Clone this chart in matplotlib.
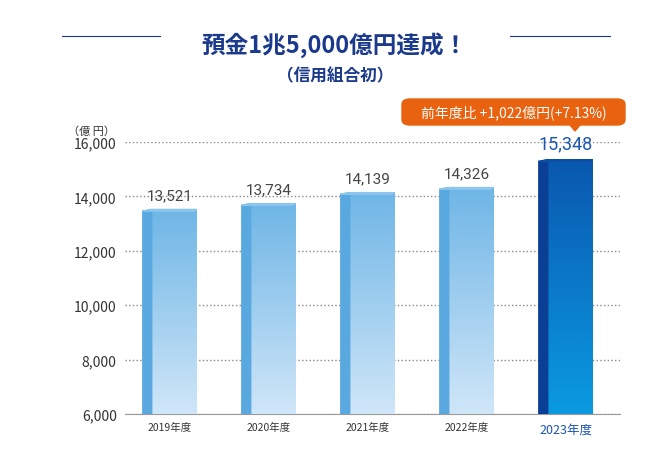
import matplotlib
matplotlib.use("Agg")
import matplotlib.pyplot as plt
import numpy as np
from matplotlib.patches import Polygon, FancyBboxPatch

plt.rcParams["font.family"] = "Noto Sans CJK JP"

years = ["2019年度", "2020年度", "2021年度", "2022年度", "2023年度"]
deposits = [13521, 13734, 14139, 14326, 15348]
yticks = [6000, 8000, 10000, 12000, 14000, 16000]

fig = plt.figure(figsize=(6.7, 4.52), dpi=100)
ax = fig.add_axes([125 / 670, 1 - 415 / 452, 495 / 670, 272 / 452])
ax.set_xlim(-0.45, 4.55)
ax.set_ylim(6000, 16000)

light = np.linspace(0, 1, 100).reshape(-1, 1)
w = 0.54
side = 0.09
for i, v in enumerate(deposits):
    last = i == len(deposits) - 1
    if last:
        cmap = matplotlib.colors.LinearSegmentedColormap.from_list("d", ["#0a9ae0", "#0a58b0"])
        sidec, topc, txtc = "#0a3f95", "#0a4ea8", "#1a55b0"
    else:
        cmap = matplotlib.colors.LinearSegmentedColormap.from_list("l", ["#cfe6f8", "#6fb6e6"])
        sidec, topc, txtc = "#5aa8e0", "#8cc6ee", "#444444"
    x0 = i - w / 2
    ax.imshow(light, cmap=cmap, extent=[x0 + side, x0 + w, 6000, v], aspect="auto", origin="lower", zorder=3)
    ax.add_patch(Polygon([[x0, 6000], [x0 + side, 6000], [x0 + side, v], [x0, v - 60]], color=sidec, zorder=3))
    ax.add_patch(Polygon([[x0, v - 60], [x0 + side, v], [x0 + w, v], [x0 + w - side * 0.3, v - 60]], color=topc, zorder=3))
    ax.text(i, v + 280, f"{v:,}", ha="center", va="bottom", fontsize=13 if last else 11,
            color=txtc, fontfamily="Roboto", zorder=4)

ax.set_yticks(yticks)
ax.set_yticklabels([f"{t:,}" for t in yticks], fontsize=10, color="#333333")
ax.set_xticks(range(len(years)))
ax.set_xticklabels(years, fontsize=7.5, color="#333333")
ax.get_xticklabels()[-1].set_color("#1a55b0")
ax.get_xticklabels()[-1].set_fontsize(9)
ax.tick_params(length=0, pad=6)
ax.grid(axis="y", linestyle=":", color="#888888", linewidth=1, zorder=0)
for s in ["top", "right", "left"]:
    ax.spines[s].set_visible(False)
ax.spines["bottom"].set_color("#999999")
ax.text(-0.02, 1.03, "（億 円）", transform=ax.transAxes, ha="right", fontsize=8, color="#333333")

# title
fig.text(0.5, 1 - 45 / 452, "預金1兆5,000億円達成！", ha="center", va="center",
         fontsize=17, fontweight="bold", color="#1b3a8c")
fig.text(0.5, 1 - 76 / 452, "（信用組合初）", ha="center", va="center",
         fontsize=12, color="#1b3a8c", fontweight="bold")
fig.add_artist(plt.Line2D([62 / 670, 160 / 670], [1 - 37 / 452] * 2, color="#1b3a8c", lw=0.8))
fig.add_artist(plt.Line2D([510 / 670, 610 / 670], [1 - 37 / 452] * 2, color="#1b3a8c", lw=0.8))

# callout
bx0, bx1, by0, by1 = 402 / 670, 625 / 670, 1 - 126 / 452, 1 - 100 / 452
fig.add_artist(FancyBboxPatch((bx0, by0), bx1 - bx0, by1 - by0, boxstyle="round,pad=0,rounding_size=0.012",
                              transform=fig.transFigure, color="#e8620f"))
fig.add_artist(Polygon([[570 / 670, by0], [580 / 670, by0], [575 / 670, by0 - 6 / 452]],
                       transform=fig.transFigure, color="#e8620f"))
fig.text((bx0 + bx1) / 2, (by0 + by1) / 2, "前年度比 +1,022億円(+7.13%)", ha="center", va="center",
         fontsize=10, color="white")

fig.savefig("out.png", dpi=100)
